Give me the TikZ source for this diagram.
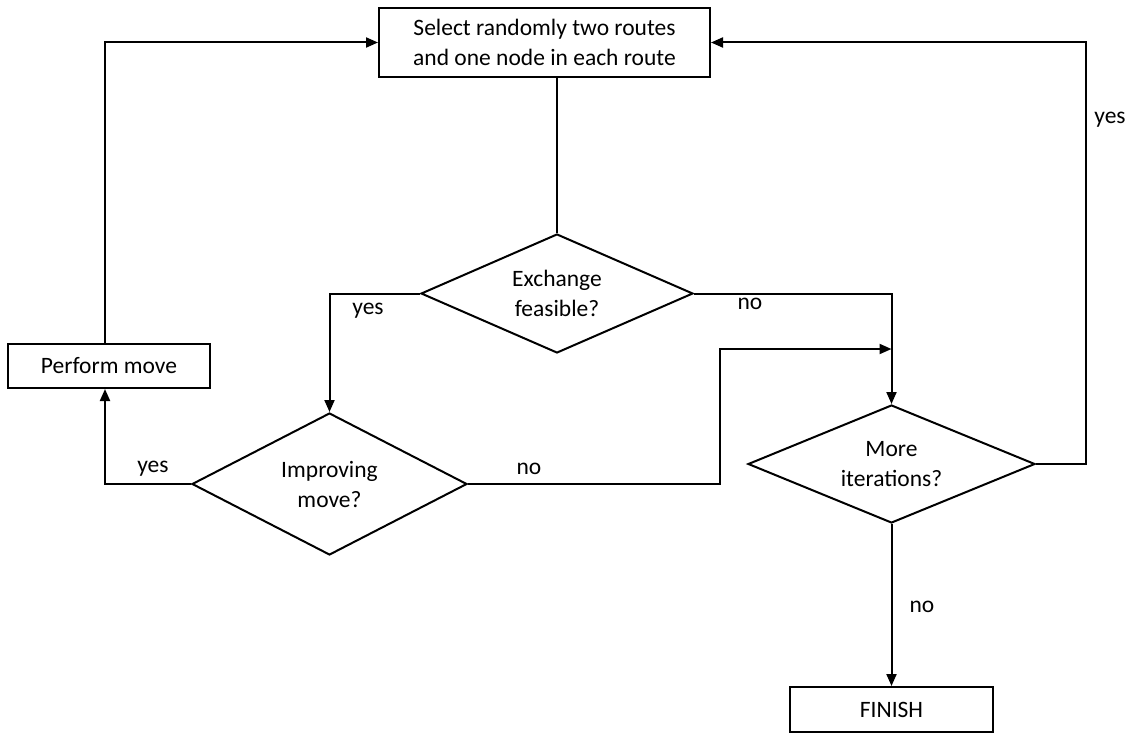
\documentclass[tikz,border=0pt]{standalone}
\usepackage{fontspec}
\setmainfont{Carlito}
\usetikzlibrary{shapes.geometric,arrows.meta}
\begin{document}
\begin{tikzpicture}[x=1pt,y=-1pt,
  every node/.style={font=\fontsize{23.5}{30}\selectfont},
  box/.style={draw, line width=2pt, rectangle, inner sep=0pt, align=center},
  dec/.style={draw, line width=2pt, diamond, inner sep=0pt, align=center},
  conn/.style={line width=2pt},
  arr/.style={conn, -{Triangle[length=12pt,width=10pt]}},
  lbl/.style={inner sep=0pt}]
\useasboundingbox (0,0) rectangle (1137,733);
\node[box, minimum width=331pt, minimum height=69pt] (top) at (544.5,42.5) {Select randomly two routes\\and one node in each route};
\node[dec, aspect=2.29, minimum width=272pt, minimum height=119pt] (ex) at (557,293.5) {Exchange\\feasible?};
\node[box, minimum width=202pt, minimum height=44pt] (perf) at (109,366) {Perform move};
\node[dec, aspect=1.94, minimum width=275pt, minimum height=142pt] (imp) at (329.5,484) {Improving\\move?};
\node[dec, aspect=2.43, minimum width=287pt, minimum height=118pt] (more) at (891.5,464) {More\\iterations?};
\node[box, minimum width=203pt, minimum height=45pt] (fin) at (891.5,709.5) {FINISH};
\coordinate (c1) at (720,349);
\coordinate (c2) at (1086,42.5);
\draw[conn] (ex.north) -- (ex.north |- top.south);
\draw[arr] (ex.west) -| (imp.north);
\draw[arr] (ex.east) -| (more.north);
\draw[arr] (imp.east) -| (c1) -- (c1 -| more.north);
\draw[arr] (imp.west) -| ([xshift=-4pt]perf.south);
\draw[arr] ([xshift=-4pt]perf.north) |- (top.west);
\draw[arr] (more.east) -| (c2) -- (top.east);
\draw[arr] (more.south) -- (fin.north);
\node[lbl] (l1) at (368,311) {yes};
\node[lbl] (l2) at (750,304) {no};
\node[lbl] (l3) at (153,469) {yes};
\node[lbl] (l4) at (529,469) {no};
\node[lbl] (l5) at (1110,120) {yes};
\node[lbl] (l6) at (922,607) {no};
\end{tikzpicture}
\end{document}
